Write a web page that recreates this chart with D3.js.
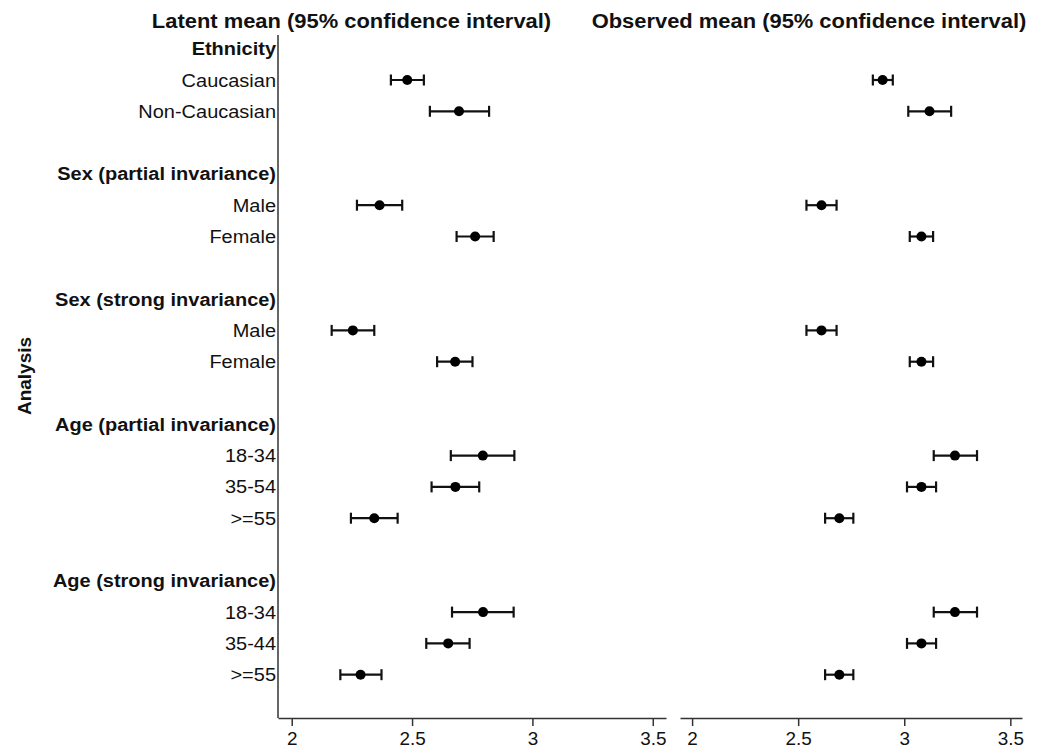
<!DOCTYPE html>
<html><head><meta charset="utf-8">
<script src="https://cdn.jsdelivr.net/npm/d3@7"></script>
<style>
html,body{margin:0;padding:0;background:#fff;}
svg{display:block;font-family:"Liberation Sans",Arial,Helvetica,sans-serif;}
</style></head>
<body>
<svg id="chart" width="1043" height="748"></svg>
<script>
// ---- data ----
const rowLabels = ["Ethnicity","Caucasian","Non-Caucasian","",
  "Sex (partial invariance)","Male","Female","",
  "Sex (strong invariance)","Male","Female","",
  "Age (partial invariance)","18-34","35-54",">=55","",
  "Age (strong invariance)","18-34","35-44",">=55"];
const headerRows = [0,4,8,12,17];
const dataRows   = [1,2,5,6,9,10,13,14,15,18,19,20];

const latentMean = [2.480,2.695,2.365,2.762,2.254,2.679,2.794,2.680,2.343,2.795,2.650,2.286];
const latentLow  = [2.412,2.574,2.271,2.685,2.166,2.604,2.661,2.581,2.246,2.666,2.559,2.202];
const latentHigh = [2.549,2.820,2.459,2.839,2.343,2.751,2.925,2.779,2.440,2.922,2.739,2.373];

const obsMean = [2.898,3.119,2.610,3.081,2.610,3.081,3.239,3.081,2.694,3.239,3.081,2.694];
const obsLow  = [2.852,3.019,2.539,3.026,2.539,3.026,3.139,3.013,2.627,3.139,3.013,2.627];
const obsHigh = [2.946,3.221,2.681,3.136,2.681,3.136,3.343,3.150,2.760,3.343,3.150,2.760];

const xTicks = [2,2.5,3,3.5];
const panelTitles = ["Latent mean (95% confidence interval)","Observed mean (95% confidence interval)"];
const yAxisTitle = "Analysis";

// ---- layout ----
const svg = d3.select("#chart");
const SX = 1.08; // horizontal text stretch
const y = d3.scaleLinear().domain([0,20]).range([48.7,674.7]);
const axisY = 718;
const domain = [1.943,3.555];
const panels = [
  {x: d3.scaleLinear().domain(domain).range([278,666]), mean: latentMean, lo: latentLow, hi: latentHigh, title: panelTitles[0], tx: 351.5, yline: true},
  {x: d3.scaleLinear().domain(domain).range([680,1022]), mean: obsMean, lo: obsLow, hi: obsHigh, title: panelTitles[1], tx: 809, yline: false}
];

function stretchText(sel, x, yy){ return sel.attr("transform", `translate(${x},${yy}) scale(${SX},1)`); }

// row labels
rowLabels.forEach((lab,i)=>{
  if(!lab) return;
  const bold = headerRows.includes(i);
  stretchText(svg.append("text"), 276, y(i)+6.5)
    .attr("text-anchor","end")
    .attr("font-size", 18.5)
    .attr("font-weight", bold ? "bold" : "normal")
    .attr("fill","#111")
    .text(lab);
});

// y-axis title
svg.append("text")
  .attr("transform","translate(31,376) rotate(-90)")
  .attr("text-anchor","middle")
  .attr("font-size",19).attr("font-weight","bold").attr("fill","#111")
  .text(yAxisTitle);

panels.forEach(p=>{
  // title
  stretchText(svg.append("text"), p.tx, 28)
    .attr("text-anchor","middle").attr("font-size",20.3).attr("font-weight","bold").attr("fill","#111")
    .text(p.title);

  // x axis
  const ax = d3.axisBottom(p.x).tickValues(xTicks).tickSize(8).tickSizeOuter(0).tickFormat(d3.format("~g"));
  const g = svg.append("g").attr("transform",`translate(0,${axisY})`).call(ax);
  g.select(".domain").attr("stroke","#333").attr("stroke-width",1.5);
  g.selectAll(".tick line").attr("stroke","#333").attr("stroke-width",1.5);
  g.selectAll(".tick text").remove();
  g.selectAll(".tick").each(function(d){
    stretchText(d3.select(this).append("text"), 0, 26.5)
      .attr("text-anchor","middle").attr("font-size",17.5).attr("fill","#111")
      .attr("font-family",'"Liberation Sans",Arial,sans-serif')
      .text(d3.format("~g")(d));
  });

  if(p.yline){
    svg.append("line").attr("x1",278).attr("x2",278).attr("y1",35).attr("y2",axisY)
      .attr("stroke","#333").attr("stroke-width",1.5);
  }

  const gd = svg.append("g");
  dataRows.forEach((r,k)=>{
    const yy = y(r);
    gd.append("line").attr("x1",p.x(p.lo[k])).attr("x2",p.x(p.hi[k])).attr("y1",yy).attr("y2",yy)
      .attr("stroke","#111").attr("stroke-width",2.2);
    [p.lo[k],p.hi[k]].forEach(v=>{
      gd.append("line").attr("x1",p.x(v)).attr("x2",p.x(v)).attr("y1",yy-5.5).attr("y2",yy+5.5)
        .attr("stroke","#111").attr("stroke-width",2.2);
    });
    gd.append("circle").attr("cx",p.x(p.mean[k])).attr("cy",yy).attr("r",5).attr("fill","#000");
  });
});
</script>
</body></html>
